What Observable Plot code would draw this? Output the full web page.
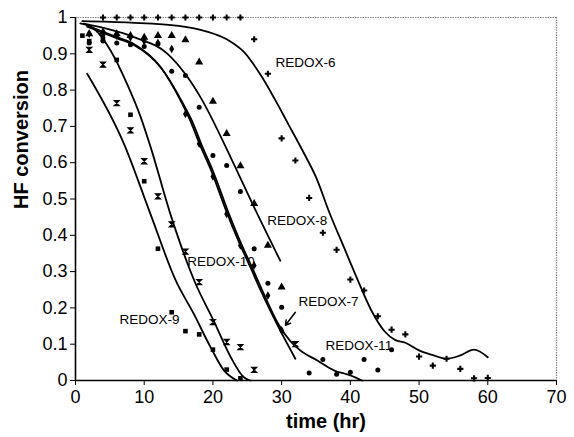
<!DOCTYPE html>
<html><head><meta charset="utf-8">
<script src="https://cdn.jsdelivr.net/npm/d3@7"></script>
<script src="https://cdn.jsdelivr.net/npm/@observablehq/plot@0.6"></script>
<style>body{margin:0;background:#fff}#chart{width:574px;height:437px}</style>
</head><body><div id="chart"></div>
<script>
// ---- tick values ----
const xTicks = [0, 10, 20, 30, 40, 50, 60, 70];
const yTicks = [0, 0.1, 0.2, 0.3, 0.4, 0.5, 0.6, 0.7, 0.8, 0.9, 1];

// ---- measured points (time hr, HF conversion) ----
const r6T = [4, 6, 8, 10, 12, 14, 16, 18, 20, 22, 24, 26, 28, 30, 32, 34, 36, 38, 40, 42, 44, 46, 48, 50, 52, 54, 56, 58, 60];
const r6V = [1, 1, 1, 1, 1, 1, 1, 1, 1, 1, 1, 0.94, 0.845, 0.667, 0.606, 0.503, 0.407, 0.36, 0.278, 0.248, 0.177, 0.14, 0.127, 0.066, 0.041, 0.06, 0.032, 0.006, 0.007];

const r7T = [2, 4, 6, 8, 10, 12, 14, 16, 18, 20, 22, 24, 26, 28, 30];
const r7V = [0.955, 0.95, 0.95, 0.945, 0.935, 0.93, 0.913, 0.734, 0.652, 0.562, 0.459, 0.372, 0.317, 0.234, 0.138];

const r8T = [2, 4, 6, 8, 10, 12, 14, 16, 18, 20, 22, 24, 26, 28, 30];
const r8V = [0.955, 0.96, 0.955, 0.95, 0.945, 0.95, 0.95, 0.938, 0.877, 0.769, 0.68, 0.591, 0.487, 0.372, 0.257];

const r9T = [1, 2, 4, 6, 8, 10, 12, 14, 16, 18, 20, 22, 24];
const r9V = [0.95, 0.935, 0.94, 0.883, 0.732, 0.549, 0.363, 0.188, 0.136, 0.127, 0.085, 0.03, 0.006];

const r10T = [2, 4, 6, 8, 10, 12, 14, 16, 18, 20, 22, 24, 26, 32];
const r10V = [0.911, 0.87, 0.764, 0.689, 0.604, 0.507, 0.43, 0.355, 0.271, 0.161, 0.106, 0.092, 0.029, 0.1];

const r11T = [2, 4, 6, 8, 10, 12, 14, 16, 18, 20, 22, 24, 26, 28, 30, 34, 36, 38, 40, 42, 44, 46];
const r11V = [0.93, 0.935, 0.93, 0.925, 0.92, 0.927, 0.852, 0.84, 0.753, 0.62, 0.592, 0.521, 0.363, 0.268, 0.202, 0.021, 0.058, 0.017, 0.023, 0.058, 0.029, 0.085];

// ---- model curves ----
const l6T = [1, 8, 15, 19, 22, 24.5, 27, 29, 31, 33, 35, 37, 39, 41, 43, 45, 46.5, 48, 50, 52, 54, 56, 58, 60];
const l6V = [0.99, 0.986, 0.977, 0.962, 0.94, 0.905, 0.84, 0.775, 0.705, 0.635, 0.56, 0.46, 0.37, 0.28, 0.195, 0.135, 0.112, 0.104, 0.083, 0.07, 0.06, 0.069, 0.085, 0.064];

const l7T = [1.7, 6, 8.5, 12.4, 15.3, 16.7, 18.2, 19.6, 22.1, 24, 25.5, 26.9, 29.3, 32];
const l7V = [0.978, 0.946, 0.927, 0.863, 0.771, 0.716, 0.645, 0.585, 0.459, 0.372, 0.31, 0.25, 0.156, 0.06];

const l8T = [1.2, 8.5, 13.4, 16.3, 18.2, 22.8, 26, 29.8];
const l8V = [0.983, 0.946, 0.9, 0.836, 0.78, 0.606, 0.477, 0.33];

const l9T = [1.7, 7.1, 10.9, 14.6, 17.2, 19.65, 21.6, 23.5];
const l9V = [0.845, 0.65, 0.459, 0.275, 0.184, 0.092, 0.028, 0];

const l10T = [0.7, 2.7, 5.1, 7.5, 9.5, 10.9, 13.8, 17.4, 20.1, 22.6, 24.5, 25.5];
const l10V = [0.984, 0.969, 0.909, 0.817, 0.725, 0.645, 0.459, 0.27, 0.165, 0.064, 0.009, 0];

const l11T = [1.7, 6, 8.5, 12.5, 15.5, 17, 18.5, 19.9, 22.4, 24.3, 25.8, 27.2, 29.6, 31.2, 32.7, 35.2, 37.6, 40, 41.7];
const l11V = [0.975, 0.943, 0.924, 0.86, 0.768, 0.713, 0.642, 0.582, 0.456, 0.369, 0.307, 0.247, 0.153, 0.11, 0.083, 0.055, 0.028, 0.014, 0];

// ---- annotations ----
const labelText = ["REDOX-6", "REDOX-8", "REDOX-10", "REDOX-7", "REDOX-11", "REDOX-9"];
const labelT = [29.1, 27.9, 16.26, 32.45, 36.4, 6.4];
const labelV = [0.876, 0.441, 0.326, 0.216, 0.096, 0.168];
const arrowFrom = [32.0, 0.188];
const arrowTo = [30.56, 0.152];

const pts = (t, v) => t.map((d, i) => ({t: d, v: v[i]}));
const labels = labelText.map((s, i) => ({s, t: labelT[i], v: labelV[i]}));

const hourglass = {
  draw(ctx, size) {
    const r = Math.sqrt(size / Math.PI);
    ctx.moveTo(-r, -r); ctx.lineTo(r, -r); ctx.lineTo(-r, r); ctx.lineTo(r, r); ctx.closePath();
  }
};

const lineOpt = {x: "t", y: "v", stroke: "#000", strokeWidth: 1.8, curve: "monotone-x"};
const dotOpt = (symbol, r) => ({x: "t", y: "v", symbol, r, fill: "#000", stroke: "none"});

const chart = Plot.plot({
  width: 574, height: 437,
  marginLeft: 75, marginRight: 18, marginTop: 17, marginBottom: 57,
  style: {fontFamily: "'Liberation Sans', Arial, sans-serif", fontSize: "18px", color: "#000", background: "#fff"},
  x: {domain: [0, 70], ticks: xTicks, tickSize: 5, tickPadding: 5, label: null},
  y: {domain: [0, 1], ticks: yTicks, tickSize: 5, tickPadding: 3, label: null, tickFormat: d => String(d)},
  marks: [
    Plot.ruleY([1], {stroke: "#888", strokeWidth: 1.2, strokeDasharray: "1.5,1"}),
    Plot.ruleX([70], {stroke: "#888", strokeWidth: 1.2, strokeDasharray: "1.5,1"}),
    Plot.line(pts(l6T, l6V), lineOpt),
    Plot.line(pts(l7T, l7V), lineOpt),
    Plot.line(pts(l8T, l8V), lineOpt),
    Plot.line(pts(l9T, l9V), lineOpt),
    Plot.line(pts(l10T, l10V), lineOpt),
    Plot.line(pts(l11T, l11V), lineOpt),
    Plot.dot(pts(r6T, r6V), dotOpt("cross", 2.6)),
    Plot.dot(pts(r7T, r7V), dotOpt("diamond", 2.6)),
    Plot.dot(pts(r8T, r8V), dotOpt("triangle", 3.0)),
    Plot.dot(pts(r9T, r9V), dotOpt("square", 2.6)),
    Plot.dot(pts(r10T, r10V), {...dotOpt(hourglass, 2.6), stroke: "#000", strokeWidth: 1.1}),
    Plot.dot(pts(r11T, r11V), dotOpt("circle", 2.5)),
    Plot.ruleY([0], {stroke: "#000", strokeWidth: 1.6}),
    Plot.ruleX([0], {stroke: "#000", strokeWidth: 1.6}),
    Plot.text(labels, {x: "t", y: "v", text: "s", textAnchor: "start", fontSize: 13.5, fill: "#000"}),
    Plot.arrow([{x1: arrowFrom[0], y1: arrowFrom[1], x2: arrowTo[0], y2: arrowTo[1]}], {x1: "x1", y1: "y1", x2: "x2", y2: "y2", stroke: "#000", strokeWidth: 1.5, headLength: 7}),
    Plot.text(["time (hr)"], {frameAnchor: "bottom", lineAnchor: "middle", dx: 10, dy: 41, fontWeight: "bold", fontSize: 20, fill: "#000"}),
    Plot.text(["HF conversion"], {frameAnchor: "left", rotate: -90, dx: -54, dy: 10, fontWeight: "bold", fontSize: 20, fill: "#000"})
  ]
});
document.getElementById("chart").appendChild(chart);
</script>
</body></html>
